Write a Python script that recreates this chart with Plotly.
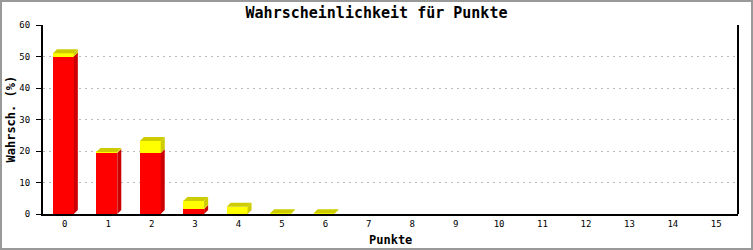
import plotly.graph_objects as go

punkte = list(range(16))
tick_labels = [str(p) for p in punkte]
red_vals = [50.0, 19.4, 19.4, 1.6, 0.1, 0, 0, 0, 0, 0, 0, 0, 0, 0, 0, 0]
yellow_vals = [1.0, 0.3, 3.8, 2.5, 2.2, 0.2, 0.2, 0, 0, 0, 0, 0, 0, 0, 0, 0]

W, H = 753, 250
L, R, T, B = 43, 15, 25, 36
pw, ph = W - L - R, H - T - B
ymax = 60
xr = (-0.5, 15.5)
ux = pw / (xr[1] - xr[0])
uy = ph / ymax
dx = 4 / ux
dy = 4 / uy
bw = 0.48
off = -0.27

RED, DRED = "#FF0000", "#CC0000"
YEL, DYEL = "#FFFF00", "#CCCC00"
MONO = "DejaVu Sans Mono"

fig = go.Figure()
fig.add_trace(go.Bar(x=punkte, y=red_vals, width=bw, offset=off,
                     marker=dict(color=RED, line=dict(width=0)), name="rot"))
fig.add_trace(go.Bar(x=punkte, y=yellow_vals, width=bw, offset=off,
                     marker=dict(color=YEL, line=dict(width=0)), name="gelb"))

shapes = []
for p, r, y in zip(punkte, red_vals, yellow_vals):
    tot = r + y
    if tot <= 0:
        continue
    xl = p + off
    xrgt = xl + bw
    if r > 0:
        shapes.append(dict(type="path", xref="x", yref="y", layer="above",
                           path=f"M{xrgt},0 L{xrgt+dx},{dy} L{xrgt+dx},{r+dy} L{xrgt},{r} Z",
                           fillcolor=DRED, line=dict(width=0)))
    if y > 0:
        shapes.append(dict(type="path", xref="x", yref="y", layer="above",
                           path=f"M{xrgt},{r} L{xrgt+dx},{r+dy} L{xrgt+dx},{tot+dy} L{xrgt},{tot} Z",
                           fillcolor=DYEL, line=dict(width=0)))
    shapes.append(dict(type="path", xref="x", yref="y", layer="above",
                       path=f"M{xl},{tot} L{xl+dx},{tot+dy} L{xrgt+dx},{tot+dy} L{xrgt},{tot} Z",
                       fillcolor=DYEL, line=dict(width=0)))

shapes.append(dict(type="line", xref="paper", yref="paper", x0=1, x1=1, y0=0, y1=1,
                   line=dict(color="black", width=2)))
shapes.append(dict(type="rect", xref="paper", yref="paper",
                   x0=(1 - L) / pw, x1=(W - 1 - L) / pw,
                   y0=-(H - 1 - T - ph) / ph, y1=(T - 1) / ph + 1,
                   line=dict(color="#999999", width=2), fillcolor="rgba(0,0,0,0)"))

annotations = [
    dict(text="<b>Punkte</b>", xref="paper", yref="paper", x=0.5, y=-(240 - (T + ph)) / ph,
         xanchor="center", yanchor="middle", showarrow=False,
         font=dict(family=MONO, size=12, color="black")),
    dict(text="<b>Wahrsch. (%)</b>", xref="paper", yref="paper", x=-(L - 10) / pw, y=0.5,
         xanchor="center", yanchor="middle", showarrow=False, textangle=-90,
         font=dict(family=MONO, size=12, color="black")),
]

fig.update_layout(
    width=W, height=H, barmode="stack", showlegend=False,
    margin=dict(l=L, r=R, t=T, b=B, pad=0, autoexpand=False),
    paper_bgcolor="white", plot_bgcolor="white",
    title=dict(text="<b>Wahrscheinlichkeit für Punkte</b>", x=0.5, xanchor="center",
               y=1 - 13 / H, yanchor="middle", font=dict(family=MONO, size=15, color="black")),
    shapes=shapes, annotations=annotations,
    xaxis=dict(range=list(xr), tickmode="array", tickvals=punkte, ticktext=tick_labels,
               showgrid=False, zeroline=False, showline=True, linecolor="black", linewidth=2,
               ticks="", tickfont=dict(family=MONO, size=9, color="black"), automargin=False),
    yaxis=dict(range=[0, ymax], tickmode="array", tickvals=[0, 10, 20, 30, 40, 50, 60],
               showgrid=True, gridcolor="#BBBBBB", griddash="2px,4px", gridwidth=1,
               zeroline=False, showline=True, linecolor="black", linewidth=2,
               ticks="outside", ticklen=5, tickcolor="black", tickwidth=1, automargin=False,
               ticklabelstandoff=4,
               tickfont=dict(family=MONO, size=9, color="black")),
)

fig.write_html("out.html")
